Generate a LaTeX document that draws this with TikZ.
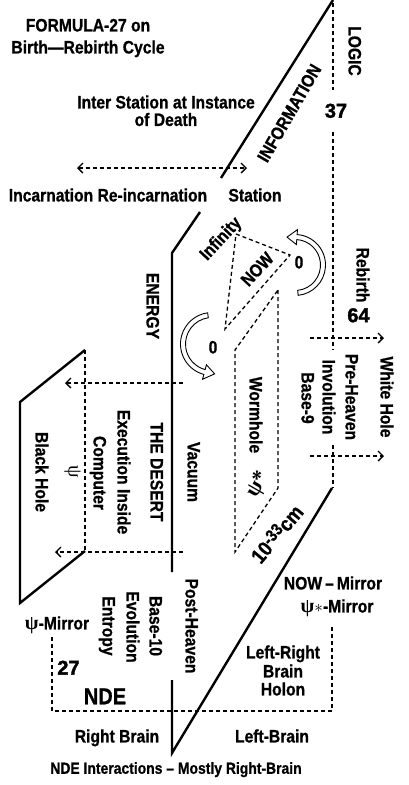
\documentclass[tikz,border=0pt]{standalone}
\usepackage{fontspec}
\setmainfont{Liberation Sans}[FakeStretch=0.87,FakeBold=0.8]
\newfontfamily\psifont{Liberation Serif}
\newfontfamily\numfont{Liberation Sans}[FakeBold=1.8]
\usetikzlibrary{arrows.meta}
\newcommand{\hollowarc}[7]{%
 \begin{scope}[shift={(#1,#2)}]
 \filldraw[fill=white,draw=black,line width=0.9pt,line join=miter]
  (#4:#3-2.5) arc[start angle=#4,end angle=#5,radius=#3-2.5]
  -- (#5:#3-7.5) -- (#6:#7) -- (#5:#3+7.5) -- (#5:#3+2.5)
  arc[start angle=#5,end angle=#4,radius=#3+2.5] -- cycle;
 \end{scope}}
\begin{document}
\begin{tikzpicture}[x=1pt,y=1pt,
 thickline/.style={line width=2.4pt,line join=miter},
 dline/.style={line width=1.3pt,dash pattern=on 4pt off 3pt},
 tip/.style={-{Straight Barb[length=5pt,width=10pt,line width=1.3pt]}},
 tips/.style={{Straight Barb[length=5pt,width=10pt,line width=1.3pt]}-{Straight Barb[length=5pt,width=10pt,line width=1.3pt]}},
 tx/.style={font=\bfseries\fontsize{18}{21}\selectfont,inner sep=0pt,text height=12.9pt,text depth=0pt},
 sm/.style={font=\bfseries\fontsize{16}{19}\selectfont,inner sep=0pt,text height=11.5pt,text depth=0pt},
 big/.style={font=\bfseries\fontsize{23}{26}\selectfont,inner sep=0pt,text height=16.5pt,text depth=0pt},
 num/.style={font=\numfont\bfseries\fontsize{20}{24}\selectfont,inner sep=0pt,text height=14.3pt,text depth=0pt},
 vt/.style={tx,rotate=-90}]
\useasboundingbox (0,0) rectangle (408,-785);
\fill[white] (0,0) rectangle (408,-785);
% coordinates
\coordinate (i1) at (333,0); \coordinate (i2) at (221,-178);
\coordinate (e1) at (200,-212); \coordinate (e2) at (172,-253); \coordinate (e3) at (172,-572);
\coordinate (p1) at (172,-680); \coordinate (p2) at (172,-753); \coordinate (p3) at (332,-488);
\coordinate (b1) at (85,-350); \coordinate (b2) at (20,-402); \coordinate (b3) at (20,-603); \coordinate (b4) at (85,-551);
\coordinate (l1) at (333,-3); \coordinate (l2) at (333,-90);
\coordinate (l3) at (333,-132); \coordinate (l4) at (333,-350);
\coordinate (l5) at (333,-445); \coordinate (l6) at (333,-488);
\coordinate (b5) at (85,-552);
\coordinate (a1) at (183,-383); \coordinate (a2) at (65,-383);
\coordinate (a3) at (183,-552); \coordinate (a4) at (55,-552);
\coordinate (t1) at (236,-234); \coordinate (t2) at (290,-255); \coordinate (t3) at (225,-329);
\coordinate (w1) at (278,-290); \coordinate (w2) at (278,-488); \coordinate (w3) at (235,-552); \coordinate (w4) at (235,-350);
\coordinate (r1) at (310,-338); \coordinate (r2) at (384,-338);
\coordinate (r3) at (310,-456); \coordinate (r4) at (384,-456);
\coordinate (d1) at (77,-168); \coordinate (d2) at (247,-168);
\coordinate (q1) at (52,-637); \coordinate (q2) at (52,-711); \coordinate (q3) at (332,-711); \coordinate (q4) at (332,-627);
% solid lines
\draw[thickline] (i1) -- (i2);
\draw[thickline] (e1) -- (e2) -- (e3);
\draw[thickline] (p1) -- (p2) -- (p3);
\draw[thickline] (b1) -- (b2) -- (b3) -- (b4);
% dashed lines
\draw[dline] (l1) -- (l2);
\draw[dline] (l3) -- (l4);
\draw[dline] (l5) -- (l6);
\draw[dline] (b1) -- (b5);
\draw[dline,tip] (a1) -- (a2);
\draw[dline,tip] (a3) -- (a4);
\draw[dline] (t1) -- (t2) -- (t3) -- cycle;
\draw[dline] (w1) -- (w2) -- (w3) -- (w4) -- cycle;
\draw[dline,tip] (r1) -- (r2);
\draw[dline,tip] (r3) -- (r4);
\draw[dline,tips] (d1) -- (d2);
\draw[dline] (q1) -- (q2) -- (q3) -- (q4);
% hollow curved arrows
\hollowarc{295}{-265}{28}{-84}{86}{106}{29}
\hollowarc{212}{-344}{29}{98}{255}{275}{30}
% texts
\node[tx] (f1) at (88,-25) {FORMULA-27 on};
\node[tx] (f2) at (88,-47) {Birth—Rebirth Cycle};
\node[vt] (logic) at (355,-51) {LOGIC};
\node[tx,rotate=60] (info) at (289,-113) {INFORMATION};
\node[num] (n37) at (336,-110.5) {37};
\node[tx] (is1) at (166,-102) {Inter Station at Instance};
\node[tx] (is2) at (166,-119.5) {of Death};
\node[tx] (inc) at (108,-195) {Incarnation Re-incarnation};
\node[tx] (sta) at (255,-195) {Station};
\node[tx,rotate=47] (inf) at (220,-238) {Infinity};
\node[tx,rotate=47] (now) at (257,-269) {NOW};
\node[tx] (z1) at (299,-262) {0};
\node[tx] (z2) at (213,-347) {0};
\node[vt] (energy) at (153,-306) {ENERGY};
\node[vt] (rebirth) at (363,-275) {Rebirth};
\node[num] (n64) at (358.5,-315) {64};
\node[vt] (wh1) at (387,-397) {White Hole};
\node[vt] (wh2) at (352,-397) {Pre-Heaven};
\node[vt] (wh3) at (329,-397) {Involution};
\node[vt] (wh4) at (308,-398) {Base-9};
\node[vt] (worm) at (256,-415) {Wormhole};
\node[tx,rotate=60,font=\psifont\bfseries\fontsize{22}{24}\selectfont] (psis) at (257,-484) {ψ*};
\node[tx,rotate=50,font=\bfseries\fontsize{21}{23}\selectfont,text height=15pt] (cm) at (277,-534) {10\raisebox{5pt}{\fontsize{17}{17}\selectfont -33}cm};
\node[vt] (vac) at (194,-472) {Vacuum};
\node[vt] (des) at (157,-472) {THE DESERT};
\node[vt] (exe) at (124,-472) {Execution Inside};
\node[vt] (comp) at (100,-473) {Computer};
\node[vt,font=\psifont\fontsize{20}{22}\selectfont] (psi) at (75,-472) {ψ};
\node[vt] (bh) at (42,-472) {Black Hole};
\node[vt] (post) at (192,-626) {Post-Heaven};
\node[vt] (b10) at (156,-626) {Base-10};
\node[vt] (evo) at (133,-627) {Evolution};
\node[vt] (ent) at (109,-626) {Entropy};
\node[tx] (pm) at (57,-623) {{\psifont\fontsize{20}{20}\selectfont ψ}-Mirror};
\node[tx] (nm) at (333,-583) {NOW\,–\,Mirror};
\node[tx] (psm) at (337,-606) {{\psifont\fontsize{20}{20}\selectfont ψ}$\ast$-Mirror};
\node[num] (n27) at (68.5,-667.5) {27};
\node[big] (nde) at (105,-696) {NDE};
\node[tx] (lr1) at (283,-652) {Left-Right};
\node[tx] (lr2) at (283,-671) {Brain};
\node[tx] (lr3) at (283,-689) {Holon};
\node[tx] (rb) at (117,-736) {Right Brain};
\node[tx] (lb) at (272,-736) {Left-Brain};
\node[sm] (foot) at (176,-768) {NDE Interactions – Mostly Right-Brain};
\end{tikzpicture}
\end{document}
